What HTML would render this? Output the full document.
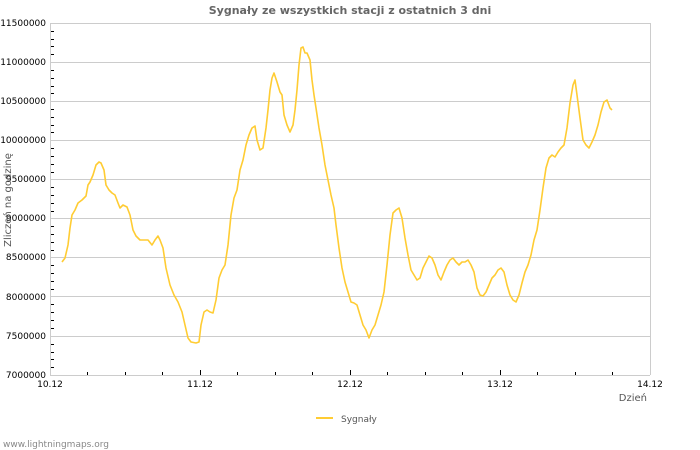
<!DOCTYPE html>
<html><head><meta charset="utf-8"><style>
html,body{margin:0;padding:0;background:#fff;}
svg{display:block;font-family:"DejaVu Sans","Liberation Sans",sans-serif;}
</style></head><body>
<svg width="700" height="450" viewBox="0 0 700 450">
<rect width="700" height="450" fill="#fff"/>
<text x="350" y="14" text-anchor="middle" font-size="11" font-weight="bold" fill="#666">Sygnały ze wszystkich stacji z ostatnich 3 dni</text>
<g stroke="#ccc" stroke-width="1">
<line x1="50" y1="23.5" x2="650" y2="23.5"/>
<line x1="50" y1="62.5" x2="650" y2="62.5"/>
<line x1="50" y1="101.5" x2="650" y2="101.5"/>
<line x1="50" y1="140.5" x2="650" y2="140.5"/>
<line x1="50" y1="179.5" x2="650" y2="179.5"/>
<line x1="50" y1="218.5" x2="650" y2="218.5"/>
<line x1="50" y1="257.5" x2="650" y2="257.5"/>
<line x1="50" y1="296.5" x2="650" y2="296.5"/>
<line x1="50" y1="336.5" x2="650" y2="336.5"/>
<line x1="50.5" y1="23" x2="50.5" y2="375"/>
<line x1="650.5" y1="23" x2="650.5" y2="375"/>
<line x1="50" y1="375.5" x2="650" y2="375.5"/>
</g>
<path stroke="#000" stroke-width="1" fill="none" d="M51 31.5h3M51 39.5h3M51 46.5h3M51 54.5h3M51 70.5h3M51 78.5h3M51 86.5h3M51 93.5h3M51 109.5h3M51 117.5h3M51 125.5h3M51 132.5h3M51 148.5h3M51 156.5h3M51 164.5h3M51 172.5h3M51 187.5h3M51 195.5h3M51 203.5h3M51 211.5h3M51 226.5h3M51 234.5h3M51 242.5h3M51 250.5h3M51 265.5h3M51 273.5h3M51 281.5h3M51 289.5h3M51 304.5h3M51 312.5h3M51 320.5h3M51 328.5h3M51 344.5h3M51 352.5h3M51 359.5h3M51 367.5h3
M87.5 372v3M125.5 372v3M162.5 372v3M200.5 370v5M237.5 372v3M275.5 372v3M312.5 372v3M350.5 370v5M387.5 372v3M425.5 372v3M462.5 372v3M500.5 370v5M537.5 372v3M575.5 372v3M612.5 372v3"/>
<g font-size="9" fill="#000" text-anchor="end">
<text x="46" y="26">11500000</text><text x="46" y="65">11000000</text><text x="46" y="104">10500000</text><text x="46" y="143">10000000</text><text x="46" y="182">9500000</text><text x="46" y="221">9000000</text><text x="46" y="260">8500000</text><text x="46" y="300">8000000</text><text x="46" y="339">7500000</text><text x="46" y="378">7000000</text>
</g>
<g font-size="9" fill="#000" text-anchor="middle">
<text x="50" y="387">10.12</text><text x="200" y="387">11.12</text><text x="350" y="387">12.12</text><text x="500" y="387">13.12</text><text x="650" y="387">14.12</text>
</g>
<text x="647" y="401" text-anchor="end" font-size="10" fill="#555">Dzień</text>
<text transform="translate(11,200) rotate(-90)" text-anchor="middle" font-size="10" fill="#555">Zliczeń na godzinę</text>
<line x1="316" y1="418" x2="333" y2="418" stroke="#ffcc33" stroke-width="2"/>
<text x="341" y="422" font-size="9" fill="#555">Sygnały</text>
<text x="3" y="447" font-size="9" fill="#888">www.lightningmaps.org</text>
<polyline fill="none" stroke="#ffcc33" stroke-width="1.6" stroke-linejoin="round" points="62,262 65,258 68,245 70,228 72,215 75,210 78,203 82,200 86,196 88,185 90,182 93,175 96,165 99,162 101,163 104,170 106,185 109,190 112,193 115,195 118,203 120,208 123,205 127,207 130,215 133,230 136,236 140,240 145,240 148,240 152,245 155,240 158,236 160,240 163,248 166,268 170,285 174,295 178,302 182,312 185,325 188,338 191,342 196,343 199,342 201,325 204,312 207,310 210,312 213,313 216,300 219,278 222,270 225,265 228,245 231,215 234,198 237,190 240,170 243,160 246,145 249,135 252,128 255,126 257,140 260,150 263,148 266,128 268,110 270,90 272,78 274,73 277,82 280,92 282,95 284,115 287,125 290,132 293,125 295,110 297,90 299,65 301,48 303,47 305,53 307,53 310,60 312,80 314,95 316,108 319,128 322,145 325,165 328,180 331,195 334,208 336,225 339,248 342,268 345,282 348,292 351,302 354,303 357,305 360,315 363,325 366,330 369,338 372,330 375,325 378,315 381,305 384,292 387,265 390,235 393,213 396,210 399,208 402,218 405,238 408,255 411,270 414,275 417,280 420,278 423,268 426,262 429,256 432,258 435,265 438,275 441,280 444,272 447,265 450,260 453,258 456,262 459,265 462,262 465,262 468,260 471,265 474,272 477,288 480,295 483,296 486,292 489,285 492,278 495,275 498,270 501,268 504,272 507,285 510,295 513,300 516,302 519,295 522,283 525,272 528,265 531,255 534,240 537,230 540,210 543,188 546,168 549,158 552,155 555,157 558,152 561,148 564,145 567,128 570,103 573,85 575,80 577,95 580,118 583,140 586,145 589,148 592,142 595,135 598,125 601,112 604,102 607,100 610,108 612,110"/>
</svg>
</body></html>
